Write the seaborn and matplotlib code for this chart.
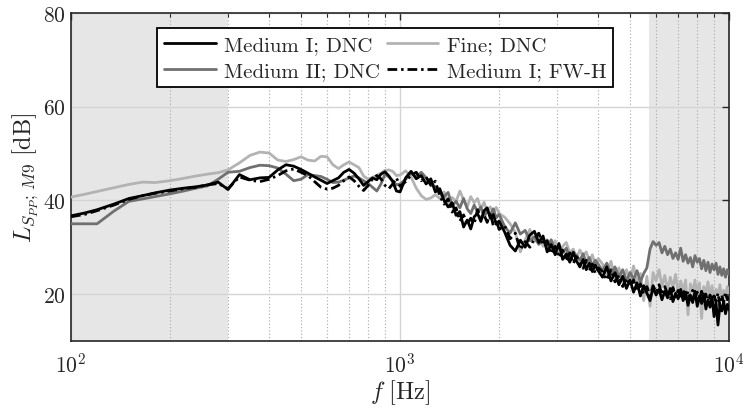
import numpy as np
import pandas as pd
import matplotlib
matplotlib.use("Agg")
import matplotlib.pyplot as plt
import seaborn as sns
from matplotlib.ticker import LogLocator, NullFormatter, FixedLocator

# Narrow-band frequency bins [Hz]
freq_hz = [
    100, 110, 120, 135, 150, 165, 180, 200, 220, 240, 260, 280, 300,
    325, 350, 375, 400, 425, 450, 475, 500, 525, 550, 575, 600, 625, 650,
    675, 700, 725, 750, 775, 800, 825, 850, 875, 900, 925, 950, 975, 1000,
    1040, 1080, 1120, 1160, 1200, 1240, 1280, 1320, 1360, 1400, 1440, 1480,
    1520, 1560, 1600, 1640, 1680, 1720, 1760, 1800, 1840, 1880, 1920, 1960, 2000,
    2080, 2160, 2240, 2320, 2400, 2480, 2560, 2640, 2720, 2800, 2880, 2960,
    3040, 3120, 3200, 3280, 3360, 3440, 3520, 3600, 3680, 3760, 3840, 3920, 4000,
    4125, 4250, 4375, 4500, 4625, 4750, 4875, 5000,
    5125, 5250, 5375, 5500, 5625, 5750, 5875, 6000,
    6125, 6250, 6375, 6500, 6625, 6750, 6875, 7000,
    7125, 7250, 7375, 7500, 7625, 7750, 7875, 8000,
    8125, 8250, 8375, 8500, 8625, 8750, 8875, 9000,
    9125, 9250, 9375, 9500, 9625, 9750, 9875, 10000,
]

# Pressure spectrum level at probe M9 [dB]
medium1_dnc = [
    36.7, 37.3, 38.0, 39.2, 40.4, 41.0, 41.6, 42.2, 42.6, 42.9, 43.3, 43.9, 42.3,
    45.5, 44.4, 44.8, 44.9, 46.5, 47.6, 47.3, 46.6, 45.8, 45.0, 44.3, 43.6, 44.2, 44.8,
    46.0, 46.6, 45.8, 44.6, 43.2, 44.0, 44.8, 44.4, 45.6, 46.1, 45.2, 44.0, 42.0, 41.8,
    44.8, 46.2, 44.6, 45.3, 43.5, 44.6, 41.8, 42.5, 40.0, 38.6, 39.5, 36.8,
    37.6, 34.3, 35.8, 33.9, 36.5, 37.2, 35.5, 37.8, 38.4, 36.2, 37.0, 34.9, 35.6,
    33.2, 30.4, 29.2, 31.5, 30.0, 32.6, 33.4, 31.0, 32.4, 29.0, 30.6, 28.4,
    30.8, 27.4, 28.6, 26.8, 28.9, 27.0, 25.8, 27.4, 25.2, 26.6, 24.8, 26.2, 25.0,
    23.6, 25.8, 22.8, 24.6, 22.0, 23.8, 21.2, 23.0,
    20.4, 22.4, 19.6, 21.8, 20.2, 18.6, 21.4, 19.8,
    21.0, 18.8, 20.6, 19.2, 21.2, 18.4, 20.2, 19.0,
    21.0, 18.6, 20.4, 17.6, 19.8, 18.2, 20.6, 17.4,
    19.6, 18.0, 20.0, 16.8, 18.8, 17.2, 19.4, 15.2,
    18.2, 13.4, 17.6, 16.4, 18.4, 15.8, 17.8, 16.6,
]

fine_dnc = [
    40.7, 41.3, 41.9, 42.7, 43.4, 43.9, 43.8, 44.2, 44.7, 45.2, 45.6, 45.9, 46.5,
    48.0, 49.6, 50.3, 50.1, 48.6, 48.3, 48.7, 49.3, 48.6, 48.4, 49.4, 49.3, 47.6, 46.8,
    47.6, 48.2, 47.6, 47.0, 45.2, 44.5, 44.9, 45.3, 45.8, 46.4, 46.5, 46.2, 45.3, 45.4,
    46.3, 45.0, 42.6, 41.0, 40.2, 40.5, 41.2, 40.4, 41.8, 39.5, 40.6, 39.8,
    42.0, 40.1, 38.6, 40.8, 39.5, 40.4, 38.2, 39.6, 37.6, 38.6, 37.4, 38.5, 37.2,
    36.4, 35.0, 33.2, 29.0, 31.6, 33.8, 31.2, 32.8, 30.2, 31.6, 29.8, 31.4,
    28.6, 30.2, 31.0, 28.8, 29.6, 27.6, 29.4, 28.2, 29.0, 27.0, 28.4, 26.2, 27.6,
    26.4, 24.2, 27.0, 23.4, 25.6, 22.4, 25.2, 23.0,
    26.0, 22.2, 24.4, 18.6, 23.8, 17.4, 24.6, 22.8,
    25.2, 21.6, 24.0, 20.8, 23.6, 21.4, 24.2, 20.2,
    22.8, 20.6, 23.0, 15.6, 22.2, 20.4, 23.0, 19.6,
    22.4, 14.8, 21.6, 20.0, 22.6, 19.2, 21.8, 18.4,
    21.0, 19.6, 22.0, 18.8, 20.8, 19.4, 21.6, 20.2,
]

medium2_dnc = [
    35.0, 35.0, 35.0, 37.7, 39.8, 40.3, 40.8, 41.4, 42.0, 42.6, 43.1, 44.5, 46.0,
    46.2, 47.0, 47.5, 47.4, 46.9, 45.6, 44.2, 44.5, 45.5, 45.3, 45.1, 44.5, 43.8, 43.9,
    44.3, 44.8, 45.2, 44.8, 44.2, 43.6, 42.8, 42.0, 43.5, 45.6, 45.0, 44.2, 43.3, 43.5,
    44.5, 45.8, 45.0, 46.0, 44.8, 43.5, 42.8, 41.6, 40.8, 41.7, 38.8, 39.8,
    38.4, 40.4, 38.2, 37.2, 39.0, 37.5, 38.6, 36.4, 37.8, 36.9, 38.2, 36.3, 37.0,
    34.4, 33.0, 35.2, 32.8, 33.6, 31.4, 32.2, 30.6, 31.8, 30.0, 31.6, 29.2,
    30.4, 28.8, 29.8, 27.8, 29.0, 28.2, 27.2, 28.6, 26.6, 27.8, 26.0, 27.2, 26.4,
    25.0, 26.6, 24.2, 25.8, 23.6, 25.2, 22.8, 24.6,
    23.2, 25.0, 22.6, 24.4, 25.6, 29.6, 31.2, 30.4,
    31.0, 28.8, 30.2, 28.4, 29.6, 27.6, 28.8, 27.4,
    29.8, 27.0, 28.4, 26.6, 27.8, 25.8, 28.2, 26.8,
    27.6, 25.4, 27.2, 25.0, 26.8, 24.6, 26.4, 25.2,
    26.6, 24.2, 25.8, 24.0, 25.4, 23.6, 25.2, 24.2,
]

medium1_fwh = [
    36.5, 37.0, 37.8, 39.0, 40.2, 41.0, 41.5, 42.0, 42.5, 42.8, 43.3, 43.6, 42.5,
    45.0, 44.3, 44.0, 44.5, 45.3, 46.3, 46.7, 46.0, 45.3, 44.0, 42.8, 42.4, 42.6, 43.2,
    44.2, 45.0, 44.2, 43.0, 42.1, 43.2, 44.6, 45.3, 44.6, 43.2, 42.5, 43.5, 44.8, 43.0,
    44.0, 45.4, 46.0, 44.2, 45.0, 43.2, 44.1, 41.0, 39.2, 40.3, 37.5, 38.4,
    35.6, 36.9, 34.8, 36.2, 35.0, 38.0, 36.4, 36.9, 35.3, 37.4, 34.6, 35.8, 33.8,
    34.6, 31.8, 33.0, 29.5, 31.2, 30.0, 31.8, 33.0, 30.4, 31.4, 28.6, 30.2,
    27.8, 29.4, 27.0, 28.8, 26.5, 28.0, 26.8, 25.5, 27.2, 25.0, 26.4, 24.4, 25.6,
    24.8, 23.0, 25.2, 22.6, 24.0, 21.6, 23.4, 21.8,
    23.0, 20.6, 22.2, 20.0, 21.6, 19.6, 21.8, 20.4,
    22.0, 19.8, 21.6, 20.0, 19.0, 21.4, 19.4, 20.8,
    19.2, 21.0, 19.0, 20.6, 18.8, 20.8, 19.2, 20.4,
    18.6, 20.6, 18.4, 20.0, 18.0, 19.8, 17.8, 19.6,
    18.4, 20.2, 17.6, 19.8, 18.2, 20.4, 18.8, 19.4,
]

# Frequency bands outside the resolved range (shaded)
low_band = (100, 300)
high_band = (5700, 10000)

series = [
    ("Medium I; DNC", medium1_dnc, "#000000", "-"),
    ("Medium II; DNC", medium2_dnc, "#707070", "-"),
    ("Fine; DNC", fine_dnc, "#b3b3b3", "-"),
    ("Medium I; FW-H", medium1_fwh, "#000000", (0, (3.5, 1.4, 0.9, 1.4))),
]
draw_order = ["Fine; DNC", "Medium II; DNC", "Medium I; DNC", "Medium I; FW-H"]

sns.set_theme(style="white")
plt.rcParams.update({
    "font.family": "serif",
    "font.serif": ["cmr10", "DejaVu Serif"],
    "mathtext.fontset": "cm",
    "axes.formatter.use_mathtext": True,
    "axes.unicode_minus": False,
})

fig = plt.figure(figsize=(7.44, 4.10), dpi=100)
ax = fig.add_axes([0.0954, 0.166, 0.8846, 0.800])

ax.axvspan(*low_band, color="#e6e6e6", lw=0, zorder=0)
ax.axvspan(*high_band, color="#e6e6e6", lw=0, zorder=0)

handles = {}
for name in draw_order:
    label, vals, col, ls = next(s for s in series if s[0] == name)
    df = pd.DataFrame({"f": freq_hz, "L": vals})
    sns.lineplot(data=df, x="f", y="L", ax=ax, color=col, lw=2.0,
                 linestyle=ls, label=label, zorder=3)
    handles[label] = ax.lines[-1]

ax.set_xscale("log")
ax.set_xlim(100, 10000)
ax.set_ylim(10, 80)
ax.yaxis.set_major_locator(FixedLocator([20, 40, 60, 80]))
ax.xaxis.set_major_locator(LogLocator(base=10, numticks=10))
ax.xaxis.set_minor_locator(LogLocator(base=10, subs=np.arange(2, 10), numticks=10))
ax.xaxis.set_minor_formatter(NullFormatter())

ax.set_axisbelow(True)
ax.grid(True, which="major", axis="both", color="#d4d4d4", lw=1.0, ls="-")
ax.grid(True, which="minor", axis="x", color="#a8a8a8", lw=0.8, ls=(0, (1, 2)))

ax.tick_params(which="both", direction="in", top=True, right=True,
               colors="#262626", labelcolor="#262626", labelsize=15.5)
ax.tick_params(which="major", length=5, width=1.0)
ax.tick_params(which="minor", length=3, width=0.8)
ax.tick_params(axis="x", pad=8)
for sp in ax.spines.values():
    sp.set_color("#262626")
    sp.set_linewidth(1.2)

ax.set_xlabel(r"$f\ [\mathrm{Hz}]$", fontsize=17.5, color="#262626", labelpad=1)
ax.set_ylabel(r"$L_{S_{PP};\,M9}\ [\mathrm{dB}]$", fontsize=17.5, color="#262626", labelpad=2)

legend_order = ["Medium I; DNC", "Medium II; DNC", "Fine; DNC", "Medium I; FW-H"]
leg = ax.legend([handles[k] for k in legend_order], legend_order, ncol=2,
                loc="upper left", bbox_to_anchor=(0.131, 0.953), fontsize=15,
                frameon=True, fancybox=False, framealpha=1, edgecolor="#000000",
                borderpad=0.35, handlelength=2.45, handletextpad=0.4,
                columnspacing=0.35, labelspacing=0.35, borderaxespad=0)
leg.get_frame().set_linewidth(1.3)
leg.set_zorder(5)

fig.savefig("out.png", dpi=100, facecolor="white")
